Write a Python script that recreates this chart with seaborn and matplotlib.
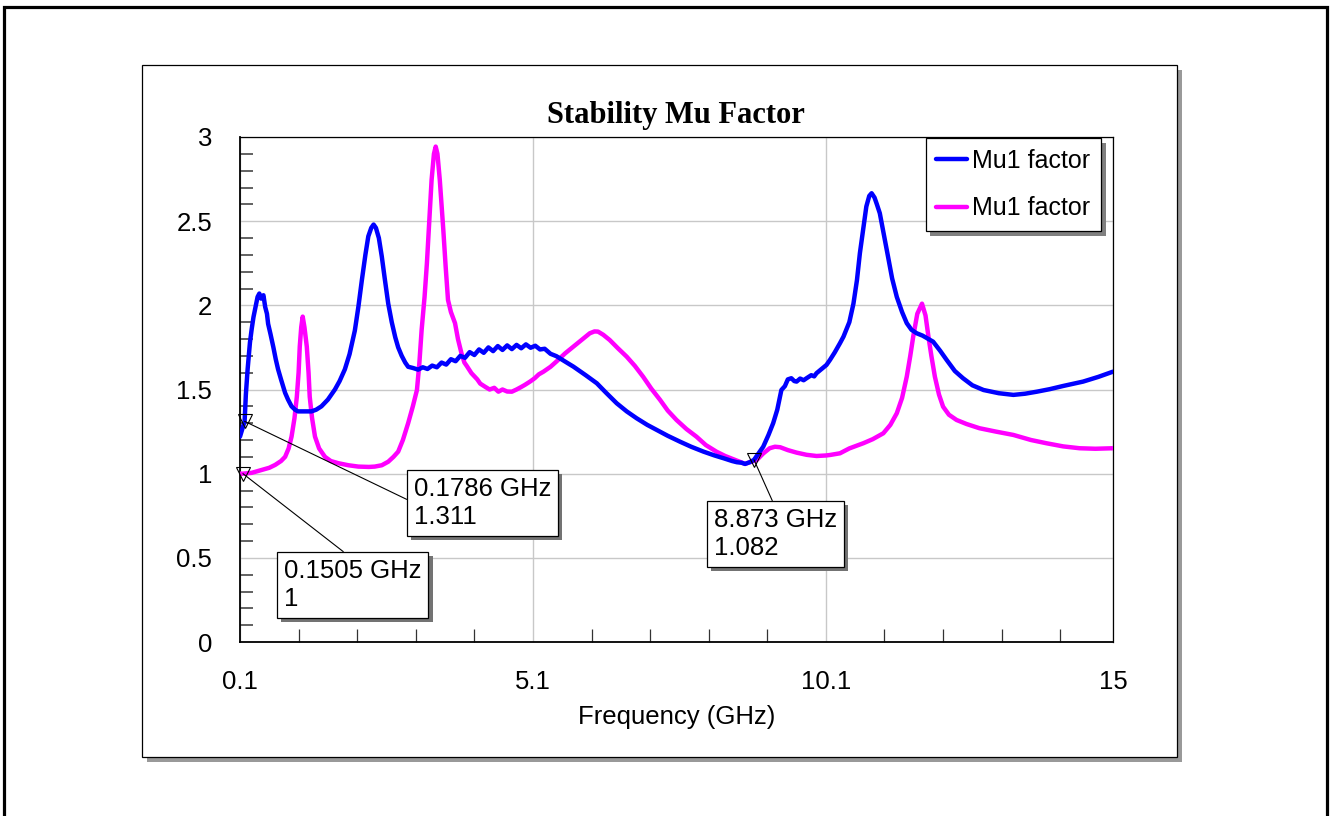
import numpy as np
import pandas as pd
import matplotlib
matplotlib.use("Agg")
import matplotlib.pyplot as plt
import matplotlib.patheffects as pe
from matplotlib.patches import Rectangle
from matplotlib.lines import Line2D
import seaborn as sns

# ---- trace data (GHz, Mu) ----
freq_blue = [0.10, 0.1786, 0.20, 0.23, 0.27, 0.30, 0.33, 0.37, 0.40, 0.43, 0.46, 0.50,
             0.53, 0.56, 0.58, 0.62, 0.67, 0.71, 0.75, 0.80, 0.87, 0.92, 0.98, 1.04,
             1.09, 1.20, 1.32, 1.40, 1.49, 1.60, 1.72, 1.80, 1.89, 1.97, 2.06, 2.12,
             2.18, 2.24, 2.29, 2.34, 2.38, 2.42, 2.47, 2.52, 2.57, 2.63, 2.69, 2.75,
             2.80, 2.86, 2.92, 2.97, 3.05, 3.14, 3.22, 3.30, 3.38, 3.46, 3.54, 3.62,
             3.70, 3.78, 3.86, 3.94, 4.02, 4.10, 4.18, 4.26, 4.34, 4.42, 4.50, 4.58,
             4.66, 4.74, 4.82, 4.90, 4.98, 5.06, 5.14, 5.22, 5.30, 5.40, 5.50, 5.56,
             5.70, 5.79, 6.00, 6.19, 6.35, 6.53, 6.70, 6.87, 7.05, 7.21, 7.40, 7.61,
             7.80, 8.01, 8.20, 8.35, 8.50, 8.58, 8.66, 8.72, 8.80, 8.873, 8.95, 9.03,
             9.12, 9.20, 9.27, 9.34, 9.40, 9.45, 9.51, 9.56, 9.60, 9.66, 9.72, 9.77,
             9.85, 9.90, 9.94, 10.02, 10.11, 10.17, 10.25, 10.34, 10.40, 10.50, 10.57,
             10.63, 10.68, 10.74, 10.79, 10.84, 10.88, 10.93, 10.97, 11.02, 11.09,
             11.16, 11.23, 11.31, 11.40, 11.48, 11.56, 11.65, 11.75, 11.85, 11.93,
             12.05, 12.16, 12.30, 12.44, 12.60, 12.79, 13.05, 13.30, 13.50, 13.70,
             13.92, 14.15, 14.49, 14.75, 15.00]
mu_blue = [1.22, 1.311, 1.47, 1.62, 1.78, 1.86, 1.93, 2.00, 2.05, 2.07, 2.04, 2.06,
           1.99, 1.95, 1.89, 1.83, 1.75, 1.68, 1.62, 1.56, 1.48, 1.44, 1.40, 1.38,
           1.37, 1.37, 1.37, 1.38, 1.40, 1.44, 1.50, 1.55, 1.62, 1.71, 1.85, 1.99,
           2.15, 2.30, 2.41, 2.46, 2.48, 2.46, 2.40, 2.29, 2.16, 2.01, 1.90, 1.81,
           1.75, 1.70, 1.66, 1.635, 1.628, 1.618, 1.632, 1.622, 1.642, 1.632, 1.660, 1.648,
           1.680, 1.668, 1.700, 1.688, 1.722, 1.705, 1.738, 1.718, 1.750, 1.728, 1.758, 1.735,
           1.762, 1.740, 1.765, 1.745, 1.768, 1.748, 1.760, 1.738, 1.742, 1.712, 1.698, 1.685,
           1.655, 1.636, 1.585, 1.537, 1.48, 1.418, 1.37, 1.329, 1.29, 1.26, 1.225, 1.19,
           1.16, 1.131, 1.108, 1.092, 1.075, 1.068, 1.065, 1.058, 1.068, 1.082, 1.12, 1.16,
           1.23, 1.30, 1.38, 1.497, 1.52, 1.56, 1.567, 1.550, 1.547, 1.565, 1.555, 1.567,
           1.585, 1.578, 1.597, 1.62, 1.646, 1.676, 1.72, 1.775, 1.814, 1.90, 2.01,
           2.15, 2.31, 2.46, 2.587, 2.65, 2.666, 2.64, 2.60, 2.547, 2.42,
           2.29, 2.16, 2.05, 1.96, 1.894, 1.855, 1.834, 1.82, 1.80, 1.784,
           1.73, 1.676, 1.61, 1.567, 1.525, 1.497, 1.478, 1.468, 1.475, 1.487,
           1.502, 1.521, 1.547, 1.575, 1.606]

freq_magenta = [0.10, 0.1505, 0.30, 0.47, 0.60, 0.70, 0.80, 0.87, 0.93, 0.98, 1.03, 1.07,
                1.10, 1.12, 1.145, 1.17, 1.20, 1.24, 1.27, 1.29, 1.33, 1.38, 1.45, 1.55,
                1.65, 1.78, 1.95, 2.12, 2.30, 2.40, 2.52, 2.63, 2.72, 2.80, 2.88, 2.97,
                3.05, 3.12, 3.16, 3.20, 3.25, 3.29, 3.33, 3.37, 3.41, 3.44, 3.47, 3.51,
                3.57, 3.61, 3.65, 3.70, 3.77, 3.82, 3.88, 3.93, 3.97, 4.05, 4.15, 4.20,
                4.28, 4.36, 4.44, 4.51, 4.58, 4.66, 4.74, 4.82, 4.90, 4.96, 5.05, 5.13,
                5.20, 5.28, 5.40, 5.50, 5.65, 5.79, 5.95, 6.07, 6.15, 6.21, 6.30, 6.41,
                6.55, 6.70, 6.84, 6.98, 7.12, 7.27, 7.40, 7.55, 7.72, 7.89, 8.05, 8.23,
                8.38, 8.52, 8.62, 8.72, 8.80, 8.92, 9.03, 9.14, 9.23, 9.32, 9.45, 9.60,
                9.77, 9.94, 10.10, 10.17, 10.34, 10.50, 10.74, 10.90, 11.08, 11.20, 11.31,
                11.40, 11.48, 11.54, 11.59, 11.66, 11.74, 11.80, 11.85, 11.90, 11.96,
                12.03, 12.10, 12.20, 12.33, 12.50, 12.72, 13.00, 13.30, 13.60, 13.86,
                14.15, 14.43, 14.70, 15.00]
mu_magenta = [1.000, 1.000, 1.005, 1.022, 1.035, 1.052, 1.075, 1.10, 1.15, 1.22, 1.33, 1.457,
              1.60, 1.755, 1.87, 1.933, 1.87, 1.755, 1.60, 1.457, 1.33, 1.22, 1.15, 1.10,
              1.075, 1.062, 1.05, 1.042, 1.040, 1.042, 1.05, 1.071, 1.10, 1.131, 1.20, 1.30,
              1.40, 1.497, 1.65, 1.854, 2.05, 2.25, 2.50, 2.745, 2.90, 2.943, 2.90, 2.745,
              2.448, 2.23, 2.032, 1.96, 1.894, 1.80, 1.715, 1.66, 1.64, 1.597, 1.56, 1.535,
              1.517, 1.50, 1.51, 1.487, 1.50, 1.488, 1.487, 1.50, 1.515, 1.527, 1.547, 1.567,
              1.59, 1.606, 1.635, 1.666, 1.715, 1.755, 1.80, 1.834, 1.845, 1.844, 1.825, 1.794,
              1.745, 1.695, 1.64, 1.576, 1.505, 1.438, 1.375, 1.319, 1.265, 1.22, 1.17, 1.131,
              1.105, 1.086, 1.072, 1.058, 1.068, 1.081, 1.12, 1.151, 1.16, 1.157, 1.14, 1.125,
              1.112, 1.105, 1.108, 1.111, 1.121, 1.15, 1.181, 1.205, 1.24, 1.29, 1.359,
              1.45, 1.576, 1.70, 1.814, 1.95, 2.01, 1.94, 1.814, 1.70, 1.576,
              1.47, 1.398, 1.35, 1.319, 1.295, 1.27, 1.25, 1.23, 1.20, 1.181,
              1.162, 1.151, 1.148, 1.151]

# ---- marker readouts ----
marker_freq = [0.1786, 0.1505, 8.873]
marker_mu = [1.311, 1.0, 1.082]

# ---- text ----
chart_title = "Stability Mu Factor"
x_label = "Frequency (GHz)"
legend_labels = ["Mu1 factor", "Mu1 factor"]
x_ticks = [0.1, 5.1, 10.1, 15]
x_tick_labels = ["0.1", "5.1", "10.1", "15"]
y_ticks = [0, 0.5, 1, 1.5, 2, 2.5, 3]
y_tick_labels = ["0", "0.5", "1", "1.5", "2", "2.5", "3"]

BLUE = "#0000ff"
MAGENTA = "#ff00ff"
LINE_W = 3.2

sns.set_style("white")
plt.rcParams["font.family"] = ["Liberation Sans", "DejaVu Sans"]
plt.rcParams["text.color"] = "black"
plt.rcParams["axes.labelcolor"] = "black"
plt.rcParams["xtick.labelcolor"] = "black"
plt.rcParams["ytick.labelcolor"] = "black"

W, H = 1330, 816


def fx(px):
    return px / W


def fy(py):
    return 1 - py / H


fig = plt.figure(figsize=(W / 100, H / 100), dpi=100)
fig.patch.set_facecolor("white")

# outer page border (runs off the bottom edge)
outer = Rectangle((fx(4), -0.05), fx(1327) - fx(4), fy(7) + 0.05,
                  transform=fig.transFigure, fill=False, ec="black", lw=2.3,
                  zorder=-2)
fig.patches.append(outer)

# chart panel with drop shadow
panel = Rectangle((fx(142), fy(757)), fx(1177) - fx(142), fy(65) - fy(757),
                  transform=fig.transFigure, fc="white", ec="black", lw=0.9,
                  zorder=-1)
panel.set_path_effects([pe.SimplePatchShadow(offset=(3.8, -3.8),
                                             shadow_rgbFace="0.6", alpha=1),
                        pe.Normal()])
fig.patches.append(panel)

ax = fig.add_axes([fx(240), fy(642), fx(1113) - fx(240), fy(137) - fy(642)])
ax.set_facecolor("white")

df = pd.concat([
    pd.DataFrame({"Frequency": freq_magenta, "Mu": mu_magenta, "trace": "magenta"}),
    pd.DataFrame({"Frequency": freq_blue, "Mu": mu_blue, "trace": "blue"}),
], ignore_index=True)

sns.lineplot(data=df, x="Frequency", y="Mu", hue="trace",
             hue_order=["magenta", "blue"],
             palette={"blue": BLUE, "magenta": MAGENTA},
             estimator=None, sort=False, linewidth=LINE_W, legend=False, ax=ax,
             zorder=3)

ax.set_xlim(0.1, 15)
ax.set_ylim(0, 3)

ax.set_xticks(x_ticks)
ax.set_xticklabels(x_tick_labels)
ax.set_yticks(y_ticks)
ax.set_yticklabels(y_tick_labels)
ax.set_xticks(np.arange(1.1, 15, 1.0), minor=True)
ax.set_yticks(np.arange(0.1, 3.0, 0.1), minor=True)

ax.tick_params(which="both", bottom=True, left=True, top=False, right=False)
ax.tick_params(which="major", direction="in", length=0, labelsize=18.5,
               pad=20, labelcolor="black")
ax.tick_params(which="minor", direction="in", length=9.5, width=1.3,
               color="#555555")
ax.tick_params(axis="x", which="minor", color="#333333", width=0.9)

ax.grid(True, which="major", color="#c8c8c8", lw=1.0)
ax.set_axisbelow(True)

for side in ["left", "bottom"]:
    ax.spines[side].set_linewidth(1.3)
    ax.spines[side].set_color("black")
for side in ["top", "right"]:
    ax.spines[side].set_linewidth(0.9)
    ax.spines[side].set_color("black")

ax.set_xlabel(x_label, fontsize=18.5, va="center", color="black")
ax.xaxis.set_label_coords(0.5, (642 - 717) / (642 - 137))
ax.set_ylabel("")

fig.text(fx(676), fy(123), chart_title, ha="center", va="baseline", color="black",
         fontsize=22, fontweight="bold", family=["Liberation Serif", "DejaVu Serif"])

# legend
handles = [Line2D([], [], color=BLUE, lw=LINE_W), Line2D([], [], color=MAGENTA, lw=LINE_W)]
leg = ax.legend(handles, legend_labels, loc="upper right",
                bbox_to_anchor=(fx(1101), fy(138)), bbox_transform=fig.transFigure,
                borderaxespad=0, fontsize=18, frameon=True, fancybox=False,
                framealpha=1, edgecolor="black", handlelength=1.25,
                handletextpad=0.2, borderpad=0.42, labelspacing=0.95,
                labelcolor="black")
leg.get_frame().set_linewidth(0.9)
leg.get_frame().set_path_effects([pe.SimplePatchShadow(offset=(3.5, -3.5),
                                                       shadow_rgbFace="0.5", alpha=1),
                                  pe.Normal()])
leg.set_zorder(10)

# marker readouts with leader lines
ax.plot(marker_freq, marker_mu, ls="none", marker="v", ms=10.5, mfc="none",
        mec="black", mew=0.8, zorder=6, clip_on=False)

box_tops_left = [(407, 470), (277, 552), (707, 501)]
relpos = [(0, 0.5), (0.5, 1), (0.5, 1)]
pad_px = 7
for f, m, (bx, by), rp in zip(marker_freq, marker_mu, box_tops_left, relpos):
    label = f"{f:g} GHz\n{m:g}"
    ann = ax.annotate(label, xy=(f, m), xycoords="data",
                      xytext=(bx + pad_px, H - (by + pad_px)),
                      textcoords="figure pixels", ha="left", va="top",
                      fontsize=18.5, zorder=7, color="black",
                      bbox=dict(boxstyle="square,pad=0.27", fc="white",
                                ec="black", lw=0.9),
                      arrowprops=dict(arrowstyle="-", color="black", lw=0.8,
                                      shrinkA=0, shrinkB=0, relpos=rp),
                      annotation_clip=False)
    ann.get_bbox_patch().set_path_effects([
        pe.SimplePatchShadow(offset=(3, -3), shadow_rgbFace="0.45", alpha=1),
        pe.Normal()])

fig.savefig("out.png", dpi=100, facecolor="white")
